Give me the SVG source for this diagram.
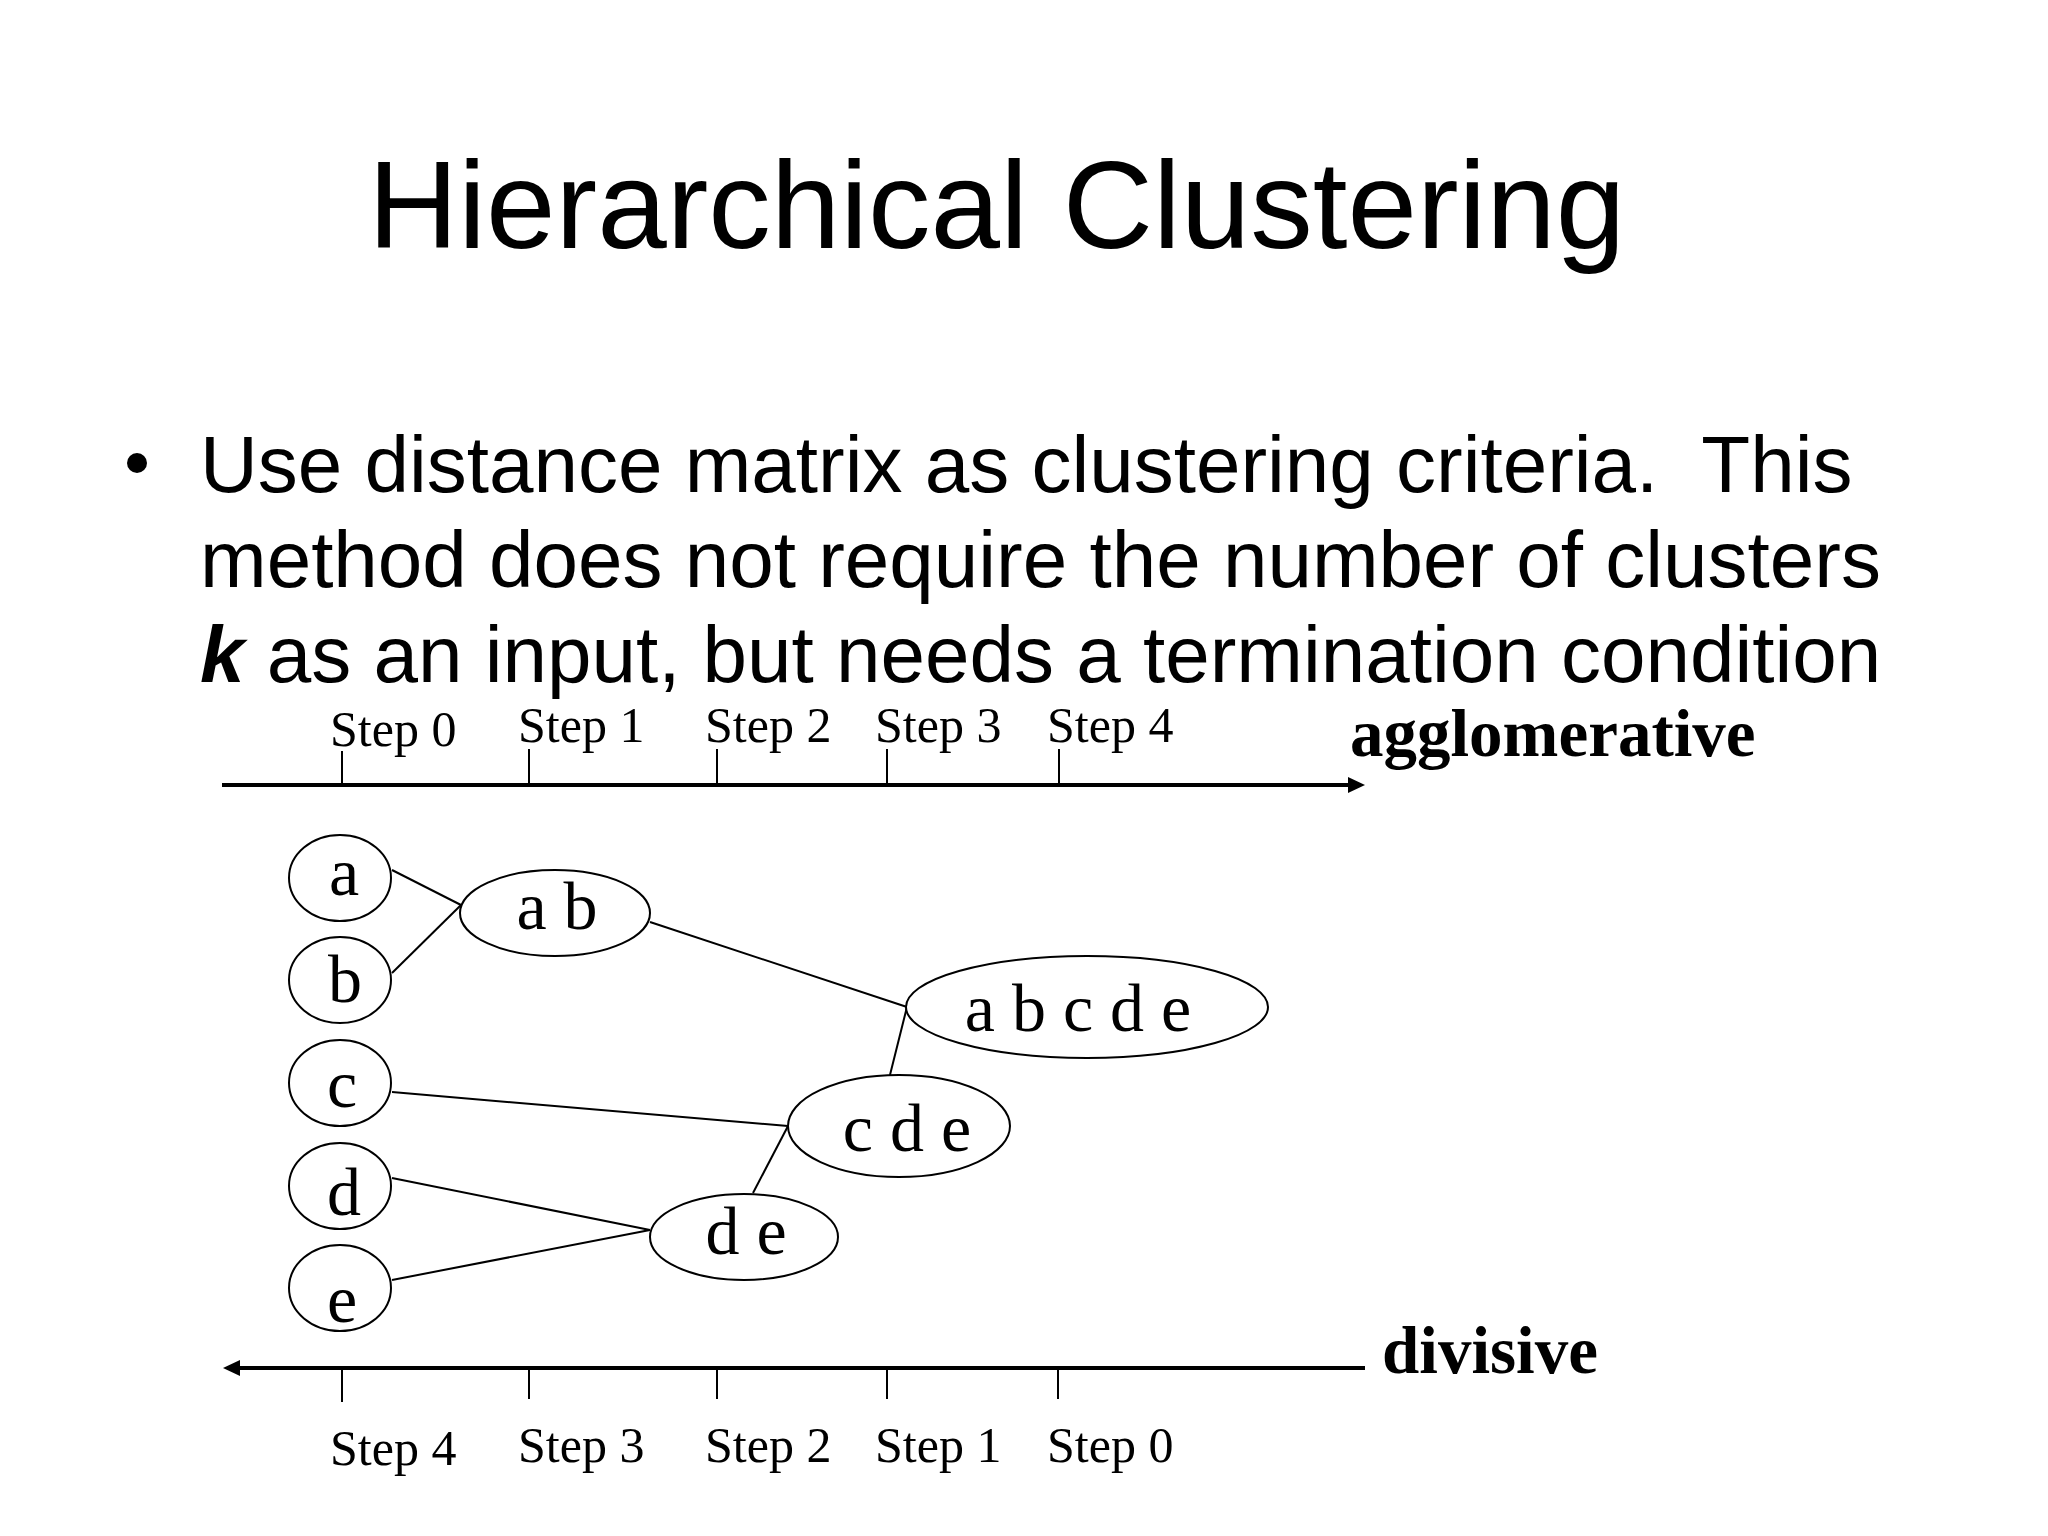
<svg xmlns="http://www.w3.org/2000/svg" width="2048" height="1536" viewBox="0 0 2048 1536">
<style>
.title{font-family:"Liberation Sans",Arial,sans-serif;font-size:125px;fill:#000}
.body{font-family:"Liberation Sans",Arial,sans-serif;font-size:80px;fill:#000;white-space:pre}
.step{font-family:"Liberation Serif","Times New Roman",serif;font-size:50px;fill:#000}
.dir{font-family:"Liberation Serif","Times New Roman",serif;font-size:67px;font-weight:bold;fill:#000}
.node ellipse{fill:#fff;stroke:#000;stroke-width:2}
.node text{font-family:"Liberation Serif","Times New Roman",serif;font-size:68px;fill:#000;text-anchor:middle}
.edge line{stroke:#000;stroke-width:2}
.axis{stroke:#000;stroke-width:4}
.tick{stroke:#000;stroke-width:2}
</style>
<defs>
<marker id="arrow" markerUnits="userSpaceOnUse" markerWidth="17" markerHeight="16" viewBox="0 0 17 16" refX="2" refY="8" orient="auto">
<path d="M0,0 L17,8 L0,16 Z" fill="#000"/>
</marker>
</defs>
<rect width="2048" height="1536" fill="#fff"/>
<text class="title" x="368" y="248">Hierarchical Clustering</text>
<circle cx="137" cy="463" r="10" fill="#000"/>
<text class="body" x="200" y="492">Use distance matrix as clustering criteria.  This</text>
<text class="body" x="200" y="587">method does not require the number of clusters</text>
<text class="body" x="200" y="682"><tspan font-weight="bold" font-style="italic">k</tspan> as an input, but needs a termination condition</text>

<g id="axis-top">
<line class="axis" x1="222" y1="785" x2="1350" y2="785" marker-end="url(#arrow)"/>
<line class="tick" x1="342" y1="751" x2="342" y2="785"/>
<line class="tick" x1="529" y1="749" x2="529" y2="785"/>
<line class="tick" x1="717" y1="749" x2="717" y2="785"/>
<line class="tick" x1="887" y1="749" x2="887" y2="785"/>
<line class="tick" x1="1059" y1="749" x2="1059" y2="785"/>
<text class="step" x="330" y="746">Step 0</text>
<text class="step" x="518" y="742">Step 1</text>
<text class="step" x="705" y="742">Step 2</text>
<text class="step" x="875" y="742">Step 3</text>
<text class="step" x="1047" y="742">Step 4</text>
<text class="dir" x="1350" y="756">agglomerative</text>
</g>

<g id="axis-bottom">
<line class="axis" x1="1365" y1="1368" x2="238" y2="1368" marker-end="url(#arrow)"/>
<line class="tick" x1="342" y1="1368" x2="342" y2="1402"/>
<line class="tick" x1="529" y1="1368" x2="529" y2="1399"/>
<line class="tick" x1="717" y1="1368" x2="717" y2="1399"/>
<line class="tick" x1="887" y1="1368" x2="887" y2="1399"/>
<line class="tick" x1="1058" y1="1368" x2="1058" y2="1399"/>
<text class="step" x="330" y="1465">Step 4</text>
<text class="step" x="518" y="1462">Step 3</text>
<text class="step" x="705" y="1462">Step 2</text>
<text class="step" x="875" y="1462">Step 1</text>
<text class="step" x="1047" y="1462">Step 0</text>
<text class="dir" x="1382" y="1373">divisive</text>
</g>

<g id="connectors" class="edge">
<line x1="392" y1="870" x2="461" y2="905"/>
<line x1="392" y1="973" x2="461" y2="905"/>
<line x1="650" y1="922" x2="907" y2="1007"/>
<line x1="890" y1="1075" x2="907" y2="1007"/>
<line x1="392" y1="1092" x2="788" y2="1126"/>
<line x1="753" y1="1193" x2="788" y2="1126"/>
<line x1="392" y1="1178" x2="650" y2="1230"/>
<line x1="392" y1="1280" x2="650" y2="1230"/>
</g>

<g id="node-a" class="node"><ellipse cx="340" cy="878" rx="51" ry="43"/><text x="344" y="895">a</text></g>
<g id="node-b" class="node"><ellipse cx="340" cy="980" rx="51" ry="43"/><text x="345" y="1002">b</text></g>
<g id="node-c" class="node"><ellipse cx="340" cy="1083" rx="51" ry="43"/><text x="342" y="1107">c</text></g>
<g id="node-d" class="node"><ellipse cx="340" cy="1186" rx="51" ry="43"/><text x="344" y="1215">d</text></g>
<g id="node-e" class="node"><ellipse cx="340" cy="1288" rx="51" ry="43"/><text x="342" y="1322">e</text></g>
<g id="node-ab" class="node"><ellipse cx="555" cy="913" rx="95" ry="43"/><text x="557" y="929">a b</text></g>
<g id="node-abcde" class="node"><ellipse cx="1087" cy="1007" rx="181" ry="51"/><text x="1078" y="1031">a b c d e</text></g>
<g id="node-cde" class="node"><ellipse cx="899" cy="1126" rx="111" ry="51"/><text x="907" y="1151">c d e</text></g>
<g id="node-de" class="node"><ellipse cx="744" cy="1237" rx="94" ry="43"/><text x="746" y="1254">d e</text></g>
</svg>
